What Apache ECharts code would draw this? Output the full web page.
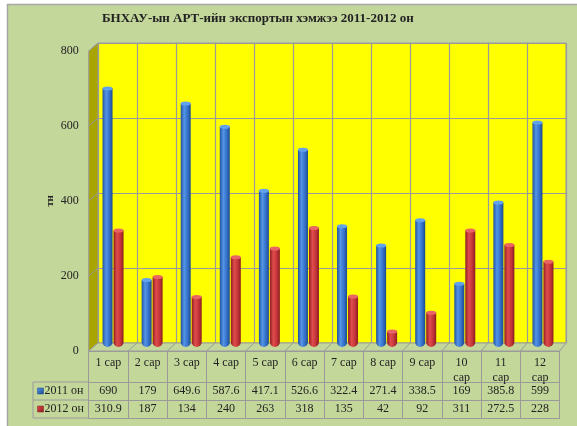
<!DOCTYPE html>
<html><head><meta charset="utf-8">
<script src="https://cdn.jsdelivr.net/npm/echarts@6/dist/echarts.min.js"></script>
<style>html,body{margin:0;padding:0;background:#fff}#c{width:577px;height:426px}</style>
</head><body><div id="c"></div>
<script>
var categories = ['1 сар','2 сар','3 сар','4 сар','5 сар','6 сар','7 сар','8 сар','9 сар','10 сар','11 сар','12 сар'];
var values2011 = [690, 179, 649.6, 587.6, 417.1, 526.6, 322.4, 271.4, 338.5, 169, 385.8, 599];
var values2012 = [310.9, 187, 134, 240, 263, 318, 135, 42, 92, 311, 272.5, 228];
var seriesNames = ['2011 он', '2012 он'];
var yTicks = [0, 200, 400, 600, 800];
var titleText = 'БНХАУ-ын АРТ-ийн экспортын хэмжээ 2011-2012 он';
var yName = 'тн';

var FONT = '"Liberation Serif","Times New Roman",serif';
var TXT = '#222';
var GRAY = '#9a9a9a';
// layout
var front = {l: 88.7, t: 51, w: 471, h: 300};
var mid = {l: 93.5, t: 47, w: 469, h: 300};
var back = {l: 98, t: 43, w: 468, h: 300};

function grad(c){
  return new echarts.graphic.LinearGradient(0,0,1,0,[
    {offset:0,color:c[0]},{offset:0.35,color:c[1]},{offset:0.7,color:c[2]},{offset:1,color:c[3]}]);
}
var blueG = ['#2150a0','#5495e6','#3470c8','#1d4a90'];
var redG = ['#8e1c20','#e04c4c','#c3353a','#8a1b1f'];

var chart = echarts.init(document.getElementById('c'));
var n = categories.length;
var gfx = [];
// outer panel
gfx.push({type:'rect', shape:{x:7.5,y:4.5,width:600,height:440}, style:{fill:'#c4d79b', stroke:'#a6a6a6', lineWidth:1.5}, z:-10});
// left wall
gfx.push({type:'polygon', shape:{points:[[front.l,front.t],[back.l,back.t],[back.l,back.t+back.h],[front.l,front.t+front.h]]}, style:{fill:'#a8a400', stroke:GRAY, lineWidth:1}, z:1});
// floor
gfx.push({type:'polygon', shape:{points:[[front.l,front.t+front.h],[back.l,back.t+back.h],[back.l+back.w,back.t+back.h],[front.l+front.w,front.t+front.h]]}, style:{fill:'#c4d79b', stroke:GRAY, lineWidth:1}, z:1});
for (var i=1;i<n;i++){
  gfx.push({type:'line', shape:{x1:front.l+front.w*i/n, y1:front.t+front.h, x2:back.l+back.w*i/n, y2:back.t+back.h}, style:{stroke:GRAY, lineWidth:1}, z:1});
}
for (var k=1;k<yTicks.length;k++){
  var fy = front.t+front.h - front.h*k/(yTicks.length-1);
  var by = back.t+back.h - back.h*k/(yTicks.length-1);
  gfx.push({type:'line', shape:{x1:front.l,y1:fy,x2:back.l,y2:by}, style:{stroke:GRAY, lineWidth:1}, z:1});
}
// y axis title
gfx.push({type:'text', x:50, y:front.t+front.h/2, rotation:Math.PI/2, style:{text:yName, fill:TXT, font:'bold 11px '+FONT, textAlign:'center', textVerticalAlign:'middle'}, z:2});
// table legend column
var tl = 33, r1 = front.t+front.h+31, r2 = r1+18, r3 = r2+18;
[r1,r2,r3].forEach(function(y){ gfx.push({type:'line', shape:{x1:tl,y1:y,x2:front.l,y2:y}, style:{stroke:GRAY,lineWidth:1}, z:1}); });
gfx.push({type:'line', shape:{x1:tl,y1:r1,x2:tl,y2:r3}, style:{stroke:GRAY,lineWidth:1}, z:1});
[[blueG, r1], [redG, r2]].forEach(function(p, j){
  gfx.push({type:'rect', shape:{x:37.5,y:p[1]+6,width:6,height:6}, style:{fill:new echarts.graphic.LinearGradient(0,0,1,1,[{offset:0,color:p[0][1]},{offset:1,color:p[0][3]}]), stroke:p[0][3], lineWidth:0.5}, z:2});
  gfx.push({type:'text', style:{text:seriesNames[j], x:44.5, y:p[1]+9, fill:TXT, font:'12px '+FONT, textVerticalAlign:'middle'}, z:2});
});

var option = {
  animation:false,
  title:{text:titleText, left:97, top:7, textStyle:{fontFamily:FONT, fontSize:13, fontWeight:'bold', color:TXT}},
  graphic: gfx,
  grid:[
    {left:back.l, top:back.t, width:back.w, height:back.h, show:true, backgroundColor:'#ffff00', borderColor:GRAY, borderWidth:1, z:0},
    {left:mid.l, top:mid.t, width:mid.w, height:mid.h},
    {left:front.l, top:front.t, width:front.w, height:front.h}
  ],
  xAxis:[
    {gridIndex:0, type:'category', data:categories, axisLabel:{show:false}, axisTick:{show:false}, axisLine:{show:false}, splitLine:{show:true, interval:0, lineStyle:{color:GRAY, width:1.2}}},
    {gridIndex:1, type:'category', data:categories, show:false},
    {gridIndex:2, type:'category', data:categories, position:'bottom', axisLine:{show:true, lineStyle:{color:GRAY}},
      axisTick:{show:true, interval:0, length:67, lineStyle:{color:GRAY}},
      axisLabel:{interval:0, margin:5, color:TXT, fontFamily:FONT, fontSize:12, lineHeight:14.5,
        formatter:function(v){ return v.length > 5 ? v.replace(' ', '\n') : v; }}},
    {gridIndex:2, type:'category', data:values2011.map(String), position:'bottom', offset:31, axisLine:{show:true, lineStyle:{color:GRAY}}, axisTick:{show:false},
      axisLabel:{interval:0, margin:3, color:TXT, fontFamily:FONT, fontSize:12}},
    {gridIndex:2, type:'category', data:values2012.map(String), position:'bottom', offset:49, axisLine:{show:true, lineStyle:{color:GRAY}}, axisTick:{show:false},
      axisLabel:{interval:0, margin:3, color:TXT, fontFamily:FONT, fontSize:12}},
    {gridIndex:2, type:'category', data:categories, position:'bottom', offset:67, axisLine:{show:true, lineStyle:{color:GRAY}}, axisTick:{show:false}, axisLabel:{show:false}}
  ],
  yAxis:[
    {gridIndex:0, type:'value', min:yTicks[0], max:yTicks[yTicks.length-1], interval:200, axisLabel:{show:false}, axisLine:{show:false}, axisTick:{show:false}, splitLine:{show:true, lineStyle:{color:GRAY, width:1.2}}},
    {gridIndex:1, type:'value', min:yTicks[0], max:yTicks[yTicks.length-1], interval:200, show:false},
    {gridIndex:2, type:'value', min:yTicks[0], max:yTicks[yTicks.length-1], interval:200, axisLine:{show:false}, axisTick:{show:false}, splitLine:{show:false},
      axisLabel:{margin:10, color:TXT, fontFamily:FONT, fontSize:12}}
  ],
  series:[
    {type:'bar', name:seriesNames[0], xAxisIndex:1, yAxisIndex:1, data:values2011, barWidth:10, barGap:'10%', itemStyle:{color:grad(blueG), borderRadius:[0,0,5,5]}, z:3},
    {type:'bar', name:seriesNames[1], xAxisIndex:1, yAxisIndex:1, data:values2012, barWidth:10, barGap:'10%', itemStyle:{color:grad(redG), borderRadius:[0,0,5,5]}, z:3},
    {type:'pictorialBar', xAxisIndex:1, yAxisIndex:1, data:values2011, barWidth:10, barGap:'10%', symbol:'circle', symbolSize:[10,4], symbolPosition:'end', symbolOffset:[0,'-50%'], itemStyle:{color:'#62a2ec', borderColor:'#2a5fae', borderWidth:0.5}, z:4},
    {type:'pictorialBar', xAxisIndex:1, yAxisIndex:1, data:values2012, barWidth:10, barGap:'10%', symbol:'circle', symbolSize:[10,4], symbolPosition:'end', symbolOffset:[0,'-50%'], itemStyle:{color:'#ea6464', borderColor:'#a82a2e', borderWidth:0.5}, z:4}
  ]
};
chart.setOption(option);
</script></body></html>
